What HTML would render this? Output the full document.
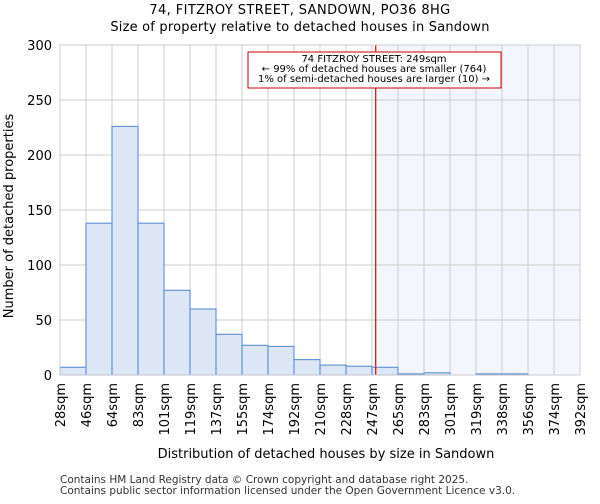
<!DOCTYPE html>
<html><head><meta charset="utf-8"><style>
body{margin:0;background:#fff;font-family:"DejaVu Sans","Liberation Sans",sans-serif}
</style></head><body>
<svg id="chart" width="600" height="500" font-family="DejaVu Sans, Liberation Sans, sans-serif">
<text x="300" y="14" font-size="13" letter-spacing="0.4" text-anchor="middle">74, FITZROY STREET, SANDOWN, PO36 8HG</text>
<text x="300" y="31" font-size="13" letter-spacing="0.2" text-anchor="middle">Size of property relative to detached houses in Sandown</text>
<g id="plot"></g>
<text x="326" y="458" font-size="13" text-anchor="middle">Distribution of detached houses by size in Sandown</text>
<text transform="translate(13,216) rotate(-90)" font-size="13" text-anchor="middle">Number of detached properties</text>
<text x="60" y="483" font-size="10.5" fill="#333">Contains HM Land Registry data © Crown copyright and database right 2025.</text>
<text x="60" y="494" font-size="10.5" fill="#333">Contains public sector information licensed under the Open Government Licence v3.0.</text>
</svg>
<script>
const categories=["28sqm","46sqm","64sqm","83sqm","101sqm","119sqm","137sqm","155sqm","174sqm","192sqm","210sqm","228sqm","247sqm","265sqm","283sqm","301sqm","319sqm","338sqm","356sqm","374sqm","392sqm"];
const counts=[7,138,226,138,77,60,37,27,26,14,9,8,7,1,2,0,1,1,0,0];
const yTicks=[0,50,100,150,200,250,300];
const binMin=28,binMax=392,markerValue=249;
const L=60,R=580,T=45,B=375,yMax=300;
const ns="http://www.w3.org/2000/svg";
const g=document.getElementById('plot');
const xs=i=>L+i*(R-L)/counts.length;
const xv=v=>L+(v-binMin)/(binMax-binMin)*(R-L);
const y=v=>B-v/yMax*(B-T);
function mk(t,a){const e=document.createElementNS(ns,t);for(const k in a)e.setAttribute(k,a[k]);g.appendChild(e);return e;}
let e;
e=mk('rect',{x:xv(markerValue),y:T,width:R-xv(markerValue),height:B-T,fill:'#f3f6fd'});


yTicks.forEach(t=>{e=mk('line',{x1:L,x2:R,y1:y(t),y2:y(t),stroke:'#ccc'});


e=mk('text',{x:L-8,y:y(t)+5,'font-size':13,'text-anchor':'end'});e.textContent=t;

});
categories.forEach((c,i)=>{e=mk('line',{x1:xs(i),x2:xs(i),y1:T,y2:B,stroke:'#ccc'});


e=mk('text',{transform:`translate(${xs(i)+5},${B+8}) rotate(-90)`,'font-size':13,'text-anchor':'end'});e.textContent=c;

});
counts.forEach((v,i)=>{e=mk('rect',{x:xs(i),y:y(v),width:xs(i+1)-xs(i),height:B-y(v),fill:'#dce6f4',stroke:'#5b8fd5','stroke-width':1.1});

});
e=mk('line',{x1:xv(markerValue),x2:xv(markerValue),y1:T,y2:B,stroke:'#d00','stroke-width':1.2});


e=mk('rect',{x:248,y:52,width:253,height:36,fill:'#fff',stroke:'#c00'});


["74 FITZROY STREET: 249sqm","← 99% of detached houses are smaller (764)","1% of semi-detached houses are larger (10) →"].forEach((s,i)=>{
e=mk('text',{x:374,y:62+i*10,'font-size':10,'text-anchor':'middle'});e.textContent=s;

});
e=mk('rect',{x:L,y:T,width:R-L,height:B-T,fill:'none',stroke:'#ccc'});


</script>
</body></html>
